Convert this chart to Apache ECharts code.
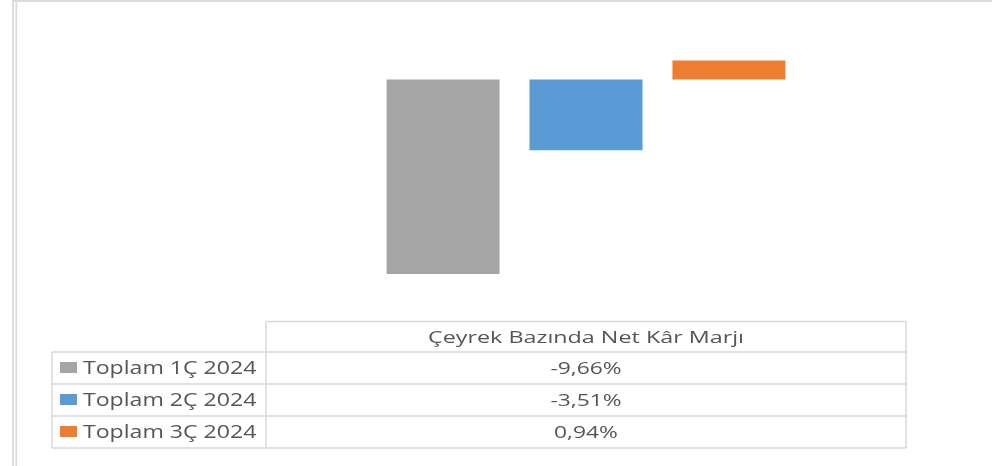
<!DOCTYPE html>
<html><head><meta charset="utf-8">
<script src="https://cdn.jsdelivr.net/npm/echarts@6/dist/echarts.min.js"></script>
<style>html,body{margin:0;padding:0;background:#fff}#c{width:992px;height:466px}</style>
</head><body><div id="c"></div>
<script>
// ---- data ----
const categories = ['Çeyrek Bazında Net Kâr Marjı'];
const seriesNames = ['Toplam 1Ç 2024', 'Toplam 2Ç 2024', 'Toplam 3Ç 2024'];
const q1Values = [-9.66];
const q2Values = [-3.51];
const q3Values = [0.94];
const seriesValues = [q1Values, q2Values, q3Values];

// ---- style / layout ----
const colors = ['#a5a5a5', '#5b9bd5', '#ed7d31'];
const W = 992, H = 466;
const plotL = 266, plotR = 906;
const legL = 52;
const rowY = [321.5, 352, 384, 416, 448];
const lineColor = '#d9d9d9';
const textColor = '#555555';
const FONT = '"Open Sans", "DejaVu Sans", sans-serif';

const fmt = v => v.toFixed(2).replace('.', ',') + '%';

const chart = echarts.init(document.getElementById('c'), null, {renderer: 'canvas'});

const graphics = [];
function line(x1, y1, x2, y2, w, c) {
  graphics.push({type: 'line', silent: true, shape: {x1, y1, x2, y2},
    style: {stroke: c || lineColor, lineWidth: w || 1.5}});
}
// outer frame (left double line + top line)
line(13, 0, 13, H, 2, '#dcdcdc');
line(16.3, 0, 16.3, H, 1.8, '#dcdcdc');
line(12, 1, W, 1, 2, '#dcdcdc');

// data table grid
line(plotL, rowY[0], plotR, rowY[0]);
for (let i = 1; i < rowY.length; i++) line(legL, rowY[i], plotR, rowY[i]);
line(legL, rowY[1], legL, rowY[4]);
line(plotL, rowY[0], plotL, rowY[4]);
line(plotR, rowY[0], plotR, rowY[4]);

const colC = (plotL + plotR) / 2;
// header
graphics.push({type: 'text', silent: true, x: colC, y: (rowY[0] + rowY[1]) / 2 + 1, scaleX: 1.39,
  style: {text: categories[0], font: '16.8px ' + FONT, fill: textColor, align: 'center', verticalAlign: 'middle'}});
// rows
seriesNames.forEach((name, i) => {
  const cy = (rowY[i + 1] + rowY[i + 2]) / 2;
  graphics.push({type: 'rect', silent: true, shape: {x: 60, y: cy - 6, width: 17, height: 11},
    style: {fill: colors[i]}});
  graphics.push({type: 'text', silent: true, x: 83, y: cy + 1, scaleX: 1.23,
    style: {text: name, font: '18.8px ' + FONT, fill: textColor, align: 'left', verticalAlign: 'middle'}});
  graphics.push({type: 'text', silent: true, x: colC, y: cy + 1, scaleX: 1.4,
    style: {text: fmt(seriesValues[i][0]), font: '16.3px ' + FONT, fill: textColor, align: 'center', verticalAlign: 'middle'}});
});

const yMin = -10, yMax = 1;
const zeroY = 79.5, pxPerUnit = 20.13;
const gridTop = zeroY - yMax * pxPerUnit;
const gridBottom = H - (zeroY - yMin * pxPerUnit);

chart.setOption({
  animation: false,
  backgroundColor: '#fff',
  grid: {left: plotL + 0.5, right: W - plotR + 0.5, top: gridTop, bottom: gridBottom, containLabel: false},
  xAxis: {type: 'category', data: categories, show: false},
  yAxis: {type: 'value', min: yMin, max: yMax, show: false, splitLine: {show: false}},
  series: seriesNames.map((name, i) => ({
    name, type: 'bar', data: seriesValues[i], barWidth: 113, barGap: '26.5%',
    itemStyle: {color: colors[i]}
  })),
  graphic: graphics
});
</script>
</body></html>
